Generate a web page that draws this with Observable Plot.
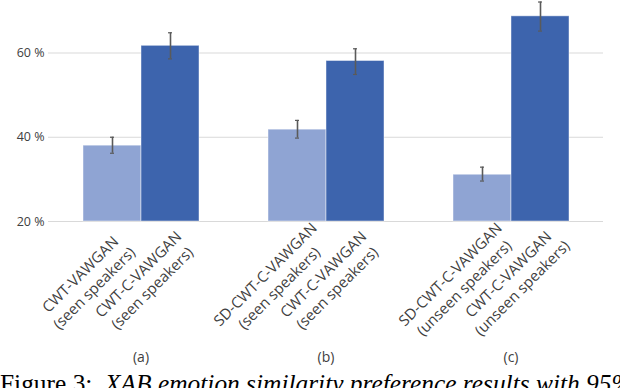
<!DOCTYPE html>
<html>
<head>
<meta charset="utf-8">
<script src="https://cdn.jsdelivr.net/npm/d3@7"></script>
<script src="https://cdn.jsdelivr.net/npm/@observablehq/plot@0.6"></script>
<style>
  html, body { margin: 0; padding: 0; background: #fff; overflow: hidden; }
  #chart svg { display: block; }
  #caption { font-family: "Liberation Serif", serif; font-size: 25.4px; line-height: 28px; white-space: nowrap; color: #000; margin-top: 0px; }
</style>
</head>
<body>
<div id="chart"></div>
<div id="caption">Figure 3:&nbsp; <i>XAB emotion similarity preference results with 95%</i></div>
<script>
const groups = ["(a)", "(a)", "(b)", "(b)", "(c)", "(c)"];
const groupLabels = ["(a)", "(b)", "(c)"];
const kinds = ["baseline", "proposed", "baseline", "proposed", "baseline", "proposed"];
const barLabels = [
  "CWT-VAWGAN\n(seen speakers)",
  "CWT-C-VAWGAN\n(seen speakers)",
  "SD-CWT-C-VAWGAN\n(seen speakers)",
  "CWT-C-VAWGAN\n(seen speakers)",
  "SD-CWT-C-VAWGAN\n(unseen speakers)",
  "CWT-C-VAWGAN\n(unseen speakers)"
];
const values = [38.0, 61.7, 41.8, 58.1, 31.1, 68.7];
const errLow = [36.2, 58.6, 39.8, 54.9, 29.6, 65.2];
const errHigh = [40.0, 64.8, 44.0, 61.0, 32.9, 72.1];
const yTicks = [20, 40, 60];

const data = values.map((v, i) => ({
  group: groups[i], kind: kinds[i], label: barLabels[i],
  value: v, lo: errLow[i], hi: errHigh[i]
}));

const textColor = "#404040";
const chart = Plot.plot({
  width: 620,
  height: 369,
  marginLeft: 48,
  marginRight: 17,
  marginTop: 0,
  marginBottom: 148,
  style: { fontFamily: "'Open Sans', sans-serif", fontSize: "12.5px", color: textColor, background: "#fff" },
  fx: { domain: groupLabels, padding: 0, axis: null, label: null },
  x: { domain: ["baseline", "proposed"], paddingInner: 0, paddingOuter: 0.568, axis: null },
  y: { domain: [20, 72.46], ticks: yTicks, tickFormat: d => d + " %", tickSize: 0, tickPadding: 4, label: null },
  color: { domain: ["baseline", "proposed"], range: ["#8FA4D3", "#3D64AD"] },
  marks: [
    Plot.gridY(yTicks, { stroke: "#d9d9d9", strokeOpacity: 1, strokeWidth: 1.2 }),
    Plot.barY(data, { fx: "group", x: "kind", y1: 20, y2: "value", fill: "kind", stroke: "#ffffff", strokeOpacity: 0.45, strokeWidth: 1, inset: 0 }),
    Plot.ruleX(data, { fx: "group", x: "kind", y1: "lo", y2: "hi", stroke: "#5a5a5a", strokeWidth: 1.6 }),
    Plot.tickY(data, { fx: "group", x: "kind", y: "lo", stroke: "#5a5a5a", strokeWidth: 1.2, insetLeft: 27, insetRight: 27 }),
    Plot.tickY(data, { fx: "group", x: "kind", y: "hi", stroke: "#5a5a5a", strokeWidth: 1.2, insetLeft: 27, insetRight: 27 }),
    Plot.text(data, { fx: "group", x: "kind", text: "label", frameAnchor: "bottom", rotate: -45, dx: -26, dy: 59,
      textAnchor: "middle", lineAnchor: "middle", lineHeight: 1.3, fontSize: 15, fill: textColor }),
    Plot.text(groupLabels, { fx: d => d, text: d => d, frameAnchor: "bottom", dy: 140, fontSize: 14, fill: textColor })
  ]
});
document.getElementById("chart").appendChild(chart);
</script>
</body>
</html>
